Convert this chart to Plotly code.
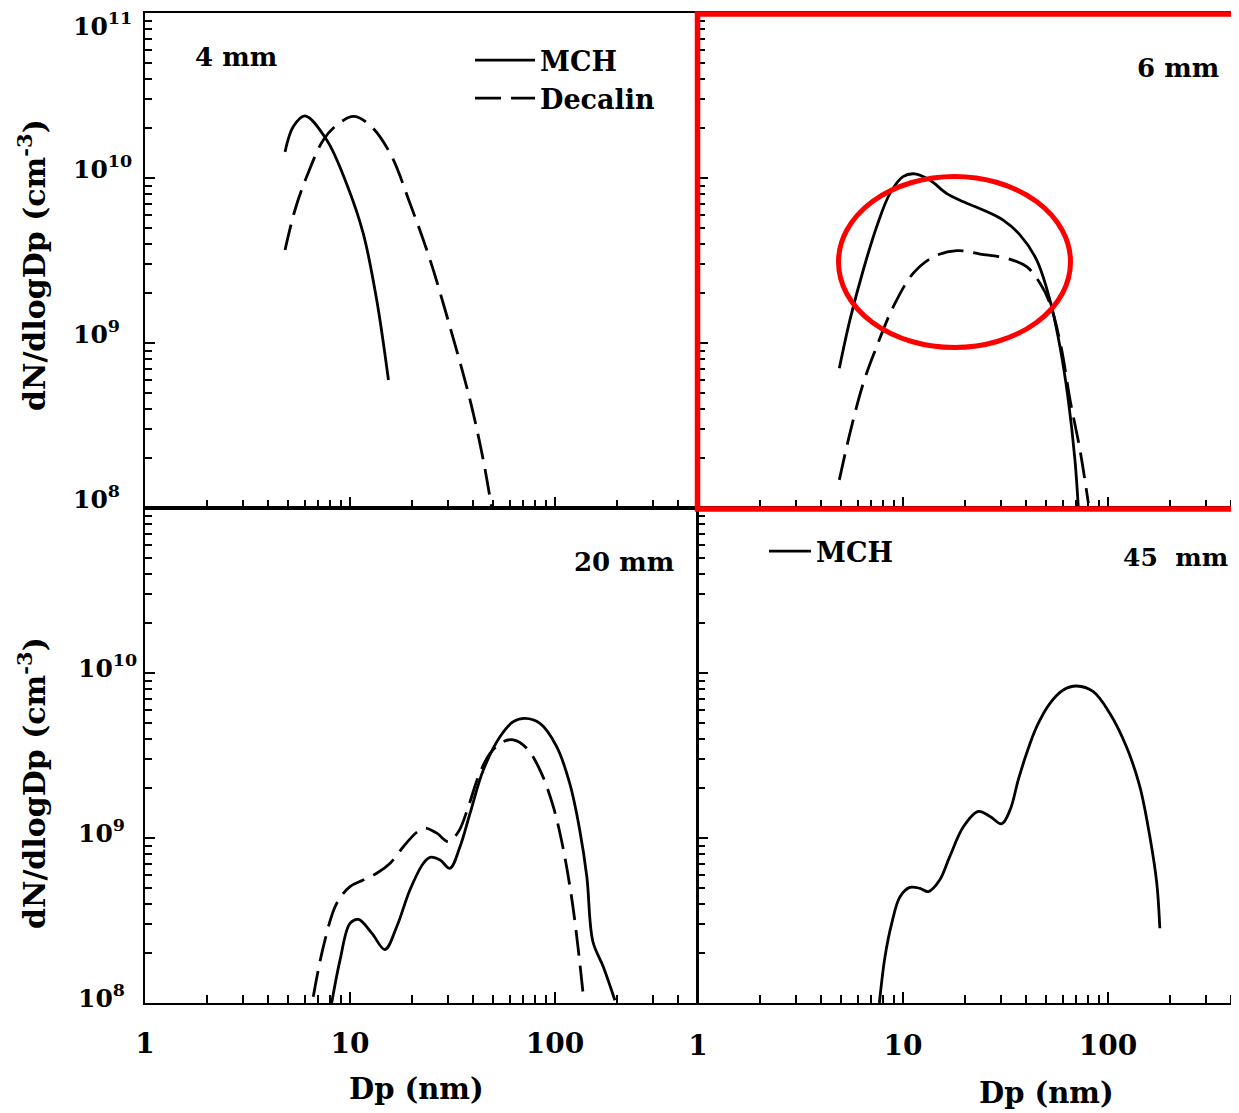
import plotly.graph_objects as go

W, H = 1239, 1113

# ---------------- data ----------------
# 4 mm panel
dp_4_mch = [4.82, 5.29, 6.03, 7.7, 9.6, 11.6, 13.5, 15.4]
n_4_mch = [1.44e10, 2.05e10, 2.38e10, 1.70e10, 9.3e9, 4.62e9, 1.82e9, 5.97e8]
dp_4_dec = [4.82, 5.39, 6.15, 7.41, 8.61, 10.4, 12.5, 15.7, 19.6, 24.6, 30.7, 38.5, 44.7, 49.1]
n_4_dec = [3.66e9, 6.4e9, 1.02e10, 1.70e10, 2.09e10, 2.36e10, 2.09e10, 1.41e10, 7.03e9,
           3.18e9, 1.26e9, 4.52e8, 1.95e8, 1.0e8]

# 6 mm panel
dp_6_mch = [4.89, 5.51, 6.4, 7.44, 8.64, 10.0, 11.4, 13.5, 16.3, 19.7, 24.6, 30.8, 37.2,
            44.9, 52.1, 58.3, 64.0, 69.0, 71.6]
n_6_mch = [7.03e8, 1.38e9, 2.77e9, 5.07e9, 8.07e9, 1.02e10, 1.06e10, 9.72e9, 8.07e9, 7.18e9,
           6.40e9, 5.56e9, 4.52e9, 3.18e9, 1.82e9, 9.51e8, 4.52e8, 1.95e8, 1.02e8]
dp_6_dec = [4.89, 5.51, 6.4, 7.44, 8.97, 11.2, 14.1, 18.3, 23.8, 32.1, 40.1, 46.6, 52.1,
            59.0, 65.3, 73.0, 80.2]
n_6_dec = [1.48e8, 2.84e8, 5.70e8, 9.51e8, 1.66e9, 2.64e9, 3.33e9, 3.63e9, 3.46e9, 3.26e9,
           2.90e9, 2.30e9, 1.74e9, 9.51e8, 4.52e8, 2.25e8, 1.07e8]

# 20 mm panel
dp_20_mch = [8.14, 8.94, 10.0, 11.0, 12.8, 14.8, 16.9, 19.6, 22.8, 24.6, 27.5, 30.7, 34.4,
             38.5, 44.7, 53.9, 62.6, 71.4, 84.5, 102, 118, 132, 143, 153, 172, 196]
n_20_mch = [1.0e8, 1.82e8, 3.04e8, 3.21e8, 2.64e8, 2.11e8, 2.90e8, 4.84e8, 7.03e8, 7.64e8,
            7.36e8, 6.55e8, 8.85e8, 1.41e9, 2.58e9, 4.11e9, 5.07e9, 5.31e9, 4.95e9, 3.57e9,
            2.14e9, 1.12e9, 5.82e8, 2.36e8, 1.66e8, 1.04e8]
dp_20_dec = [6.62, 7.41, 8.61, 10.0, 11.6, 13.5, 15.7, 18.2, 21.1, 23.2, 26.5, 30.2, 33.8,
             37.8, 42.3, 48.2, 56.0, 62.6, 72.8, 84.5, 98.1, 110, 121, 130, 137]
n_20_dec = [1.09e8, 2.19e8, 4.02e8, 5.07e8, 5.56e8, 6.11e8, 7.03e8, 8.85e8, 1.08e9, 1.15e9,
            1.07e9, 9.51e8, 1.09e9, 1.55e9, 2.36e9, 3.26e9, 3.84e9, 3.93e9, 3.50e9, 2.58e9,
            1.55e9, 8.45e8, 4.21e8, 2.09e8, 1.15e8]

# 45 mm panel
dp_45_mch = [7.67, 8.17, 8.81, 9.67, 10.8, 12.1, 13.3, 15.1, 16.9, 19.7, 23.3, 26.6, 30.3,
             33.3, 36.5, 40.1, 44.9, 52.1, 60.5, 70.3, 84.8, 102, 123, 143, 160, 173, 179]
n_45_mch = [1.0e8, 1.91e8, 3.04e8, 4.41e8, 5.02e8, 4.95e8, 4.73e8, 5.56e8, 7.71e8, 1.17e9,
            1.45e9, 1.35e9, 1.22e9, 1.48e9, 2.25e9, 3.26e9, 4.73e9, 6.55e9, 7.89e9, 8.34e9,
            7.71e9, 5.70e9, 3.57e9, 2.05e9, 1.02e9, 5.31e8, 2.84e8]

panel_labels = ["4 mm", "6 mm", "20 mm", "45\u00a0\u00a0mm"]
series_names = ["MCH", "Decalin"]
y_exponents_top = [8, 9, 10, 11]
y_ticktext_top = ["10<sup>8</sup>", "10<sup>9</sup>", "10<sup>10</sup>", "10<sup>11</sup>"]
y_exponents_bot = [8, 9, 10]
y_ticktext_bot = ["10<sup>8</sup>", "10<sup>9</sup>", "10<sup>10</sup>"]
y_tickvals = [1e8, 1e9, 1e10, 1e11]
x_tickvals = [1, 10, 100]
x_ticktext = ["1", "10", "100"]
y_title = "dN/dlogDp (cm<sup>-3</sup>)"
x_title = "Dp (nm)"

# ---------------- layout helpers ----------------
# reference-pixel -> paper fraction (the page body adds an 8 px offset)
OFF = 8

def px(x):
    return (x - OFF) / W

def py(y):
    return 1 - (y - OFF) / H

FONT = "DejaVu Serif"
LW = 2.8
DASH = "26px,10px"

fig = go.Figure()

panels = [
    ("x", "y", [(dp_4_mch, n_4_mch, "solid", series_names[0], True, "legend"),
                (dp_4_dec, n_4_dec, DASH, series_names[1], True, "legend")]),
    ("x2", "y2", [(dp_6_mch, n_6_mch, "solid", series_names[0], False, "legend"),
                  (dp_6_dec, n_6_dec, DASH, series_names[1], False, "legend")]),
    ("x3", "y3", [(dp_20_mch, n_20_mch, "solid", series_names[0], False, "legend"),
                  (dp_20_dec, n_20_dec, DASH, series_names[1], False, "legend")]),
    ("x4", "y4", [(dp_45_mch, n_45_mch, "solid", series_names[0], True, "legend2")]),
]

for xa, ya, trs in panels:
    for xs, ys, dash, name, show, leg in trs:
        fig.add_trace(go.Scatter(
            x=xs, y=ys, mode="lines", name=name, showlegend=show, legend=leg,
            xaxis=xa, yaxis=ya,
            line=dict(color="black", width=LW, dash=dash, shape="spline", smoothing=1.0),
        ))

RIGHT_END = W + OFF  # right panels run past the visible edge
x_left = [px(145), px(697)]
x_right = [px(698), px(RIGHT_END)]
y_top = [py(508), py(13)]
y_bot = [py(1003), py(508)]

DEC = 205.0  # pixels per decade on the x axes
xr_left = [0, (697 - 145) / DEC]
xr_right = [0, (RIGHT_END - 698) / DEC]
yr = [8, 11]

common_x = dict(type="log", showline=True, linecolor="black", linewidth=2, mirror=True,
                automargin=False,
                ticks="inside", ticklen=11, tickwidth=1.5, tickcolor="black",
                tickvals=x_tickvals, ticktext=x_ticktext, showgrid=False, zeroline=False,
                minor=dict(ticks="inside", ticklen=8, tickwidth=1.5, tickcolor="black",
                           dtick="D1", showgrid=False),
                tickfont=dict(family=FONT, size=28, color="black", weight="bold"))
common_y = dict(type="log", range=yr, showline=True, linecolor="black", linewidth=2,
                automargin=False, showticklabels=False,
                ticks="inside", ticklen=10, tickwidth=1.5, tickcolor="black",
                tickvals=y_tickvals, showgrid=False, zeroline=False,
                minor=dict(ticks="inside", ticklen=7, tickwidth=1.5, tickcolor="black",
                           dtick="D1", showgrid=False))

fig.update_layout(
    xaxis=dict(common_x, domain=x_left, range=xr_left, anchor="y", showticklabels=False),
    yaxis=dict(common_y, domain=y_top, anchor="x", mirror=True),
    xaxis2=dict(common_x, domain=x_right, range=xr_right, anchor="y2", showticklabels=False),
    yaxis2=dict(common_y, domain=y_top, anchor="x2"),
    xaxis3=dict(common_x, domain=x_left, range=xr_left, anchor="y3", ticklabelstandoff=14),
    yaxis3=dict(common_y, domain=y_bot, anchor="x3", mirror=True),
    xaxis4=dict(common_x, domain=x_right, range=xr_right, anchor="y4", ticklabelstandoff=16),
    yaxis4=dict(common_y, domain=y_bot, anchor="x4"),
)

annotations = []
# y tick labels (left-aligned, as in the reference), positioned on the log axes
for yref, exps, texts, xl, shift in (("y", y_exponents_top, y_ticktext_top, 71, 10),
                                     ("y3", y_exponents_bot, y_ticktext_bot, 76, 7)):
    for e, t in zip(exps, texts):
        at_top = (e == yr[1])
        annotations.append(dict(text=t, x=px(xl), y=e, xref="paper", yref=yref,
                                showarrow=False, xanchor="left",
                                yanchor="top" if at_top else "middle",
                                yshift=7 if at_top else shift,
                                font=dict(family=FONT, size=25, color="black", weight="bold")))
for yc in (265, 783):
    annotations.append(dict(text=y_title, x=px(32), y=py(yc), xref="paper", yref="paper",
                            textangle=-90, showarrow=False, xanchor="center", yanchor="middle",
                            font=dict(family=FONT, size=30, color="black", weight="bold")))
for xc, yc in ((416, 1089), (1046, 1093)):
    annotations.append(dict(text=x_title, x=px(xc), y=py(yc), xref="paper", yref="paper",
                            showarrow=False, xanchor="center", yanchor="middle",
                            font=dict(family=FONT, size=29, color="black", weight="bold")))
for lab, (xc, yc), fs in zip(panel_labels, [(236, 57), (1178, 68), (624, 562), (1175, 557)],
                             (26, 26, 26, 25)):
    annotations.append(dict(text=lab, x=px(xc), y=py(yc), xref="paper", yref="paper",
                            showarrow=False, xanchor="center", yanchor="middle",
                            font=dict(family=FONT, size=fs, color="black", weight="bold")))
fig.update_layout(annotations=annotations)

fig.add_shape(type="rect", xref="paper", yref="paper",
              x0=px(697.5), x1=px(1236.5), y0=py(509), y1=py(14),
              line=dict(color="#ff0000", width=5.5), layer="above")
fig.add_shape(type="circle", xref="paper", yref="paper",
              x0=px(838.5), x1=px(1070.5), y0=py(347.5), y1=py(176.5),
              line=dict(color="#ff0000", width=5), layer="above")

fig.update_layout(
    width=W, height=H, autosize=False,
    margin=dict(l=0, r=0, t=0, b=0, autoexpand=False),
    paper_bgcolor="white", plot_bgcolor="white",
    font=dict(family=FONT, color="black", weight="bold"),
    legend=dict(x=px(470), y=py(36), xanchor="left", yanchor="top",
                bgcolor="rgba(0,0,0,0)", itemwidth=60, tracegroupgap=0,
                font=dict(family=FONT, size=27, color="black", weight="bold")),
    legend2=dict(x=px(764), y=py(527), xanchor="left", yanchor="top",
                 bgcolor="rgba(0,0,0,0)", itemwidth=42,
                 font=dict(family=FONT, size=27, color="black", weight="bold")),
)

fig.write_html("out.html")
